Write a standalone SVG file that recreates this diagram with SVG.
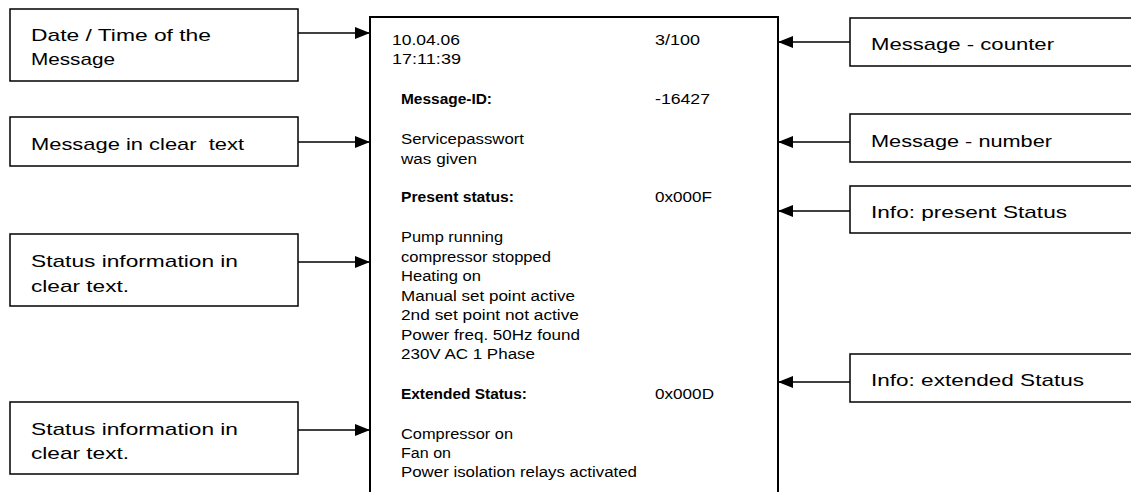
<svg xmlns="http://www.w3.org/2000/svg" width="1131" height="492" viewBox="0 0 1131 492">
<style>
.box{fill:#fff;stroke:#000;stroke-width:1.5}
.main{fill:#fff;stroke:#000;stroke-width:2}
.lbl{font-family:"Liberation Sans",Arial,sans-serif;font-size:17px;fill:#000}
.t{font-family:"Liberation Sans",Arial,sans-serif;font-size:14px;fill:#000}
.b{font-family:"Liberation Sans",Arial,sans-serif;font-size:14px;font-weight:bold;fill:#000}
.con{stroke:#000;stroke-width:1.5;fill:none;marker-end:url(#ah)}
</style>
<defs>
<marker id="ah" markerUnits="userSpaceOnUse" markerWidth="16" markerHeight="12" refX="15" refY="6" orient="auto">
<path d="M0,0 L15,6 L0,12 Z" fill="#000"/>
</marker>
</defs>
<rect width="1131" height="492" fill="#fff"/>

<g id="connectors">
<line class="con" x1="298" y1="33" x2="370" y2="33"/>
<line class="con" x1="298" y1="142" x2="370" y2="142"/>
<line class="con" x1="298" y1="262" x2="370" y2="262"/>
<line class="con" x1="298" y1="430" x2="370" y2="430"/>
<line class="con" x1="850" y1="42" x2="778" y2="42"/>
<line class="con" x1="850" y1="142" x2="778" y2="142"/>
<line class="con" x1="850" y1="211" x2="778" y2="211"/>
<line class="con" x1="850" y1="382" x2="778" y2="382"/>
</g>

<g id="display">
<rect class="main" x="370" y="17" width="408" height="500"/>
<text class="t" x="392" y="44.5" textLength="68" lengthAdjust="spacingAndGlyphs">10.04.06</text>
<text class="t" x="392" y="63.5" textLength="69" lengthAdjust="spacingAndGlyphs">17:11:39</text>
<text class="t" x="655" y="44.5" textLength="45" lengthAdjust="spacingAndGlyphs">3/100</text>
<text class="b" x="401" y="104" textLength="91" lengthAdjust="spacingAndGlyphs">Message-ID:</text>
<text class="t" x="655" y="104" textLength="55" lengthAdjust="spacingAndGlyphs">-16427</text>
<text class="t" x="401" y="144" textLength="123" lengthAdjust="spacingAndGlyphs">Servicepasswort</text>
<text class="t" x="401" y="163.5" textLength="76" lengthAdjust="spacingAndGlyphs">was given</text>
<text class="b" x="401" y="202" textLength="113" lengthAdjust="spacingAndGlyphs">Present status:</text>
<text class="t" x="655" y="202" textLength="57" lengthAdjust="spacingAndGlyphs">0x000F</text>
<text class="t" x="401" y="242" textLength="102" lengthAdjust="spacingAndGlyphs">Pump running</text>
<text class="t" x="401" y="261.5" textLength="150" lengthAdjust="spacingAndGlyphs">compressor stopped</text>
<text class="t" x="401" y="281" textLength="80" lengthAdjust="spacingAndGlyphs">Heating on</text>
<text class="t" x="401" y="300.5" textLength="174" lengthAdjust="spacingAndGlyphs">Manual set point active</text>
<text class="t" x="401" y="320" textLength="178" lengthAdjust="spacingAndGlyphs">2nd set point not active</text>
<text class="t" x="401" y="339.5" textLength="179" lengthAdjust="spacingAndGlyphs">Power freq. 50Hz found</text>
<text class="t" x="401" y="359" textLength="134" lengthAdjust="spacingAndGlyphs">230V AC 1 Phase</text>
<text class="b" x="401" y="399" textLength="126" lengthAdjust="spacingAndGlyphs">Extended Status:</text>
<text class="t" x="655" y="399" textLength="59" lengthAdjust="spacingAndGlyphs">0x000D</text>
<text class="t" x="401" y="438.5" textLength="112" lengthAdjust="spacingAndGlyphs">Compressor on</text>
<text class="t" x="401" y="457.5" textLength="50" lengthAdjust="spacingAndGlyphs">Fan on</text>
<text class="t" x="401" y="477" textLength="236" lengthAdjust="spacingAndGlyphs">Power isolation relays activated</text>
</g>

<g id="n-datetime">
<rect class="box" x="10" y="9" width="288" height="72"/>
<text class="lbl" x="31" y="41" textLength="180" lengthAdjust="spacingAndGlyphs">Date / Time of the</text>
<text class="lbl" x="31" y="65" textLength="84" lengthAdjust="spacingAndGlyphs">Message</text>
</g>
<g id="n-cleartext">
<rect class="box" x="10" y="117" width="288" height="49"/>
<text class="lbl" x="31" y="150" textLength="213" lengthAdjust="spacingAndGlyphs" xml:space="preserve">Message in clear  text</text>
</g>
<g id="n-status1">
<rect class="box" x="10" y="234" width="288" height="72"/>
<text class="lbl" x="31" y="266.5" textLength="207" lengthAdjust="spacingAndGlyphs">Status information in</text>
<text class="lbl" x="31" y="291.5" textLength="98" lengthAdjust="spacingAndGlyphs">clear text.</text>
</g>
<g id="n-status2">
<rect class="box" x="10" y="402" width="288" height="72"/>
<text class="lbl" x="31" y="435" textLength="207" lengthAdjust="spacingAndGlyphs">Status information in</text>
<text class="lbl" x="31" y="459" textLength="98" lengthAdjust="spacingAndGlyphs">clear text.</text>
</g>

<g id="n-counter">
<rect class="box" x="850" y="18" width="300" height="48"/>
<text class="lbl" x="871" y="50" textLength="183" lengthAdjust="spacingAndGlyphs">Message - counter</text>
</g>
<g id="n-number">
<rect class="box" x="850" y="114" width="300" height="48"/>
<text class="lbl" x="871" y="147" textLength="181" lengthAdjust="spacingAndGlyphs">Message - number</text>
</g>
<g id="n-present">
<rect class="box" x="850" y="186" width="300" height="47"/>
<text class="lbl" x="871" y="218" textLength="196" lengthAdjust="spacingAndGlyphs">Info: present Status</text>
</g>
<g id="n-extended">
<rect class="box" x="850" y="354" width="300" height="48"/>
<text class="lbl" x="871" y="386" textLength="213" lengthAdjust="spacingAndGlyphs">Info: extended Status</text>
</g>
</svg>
